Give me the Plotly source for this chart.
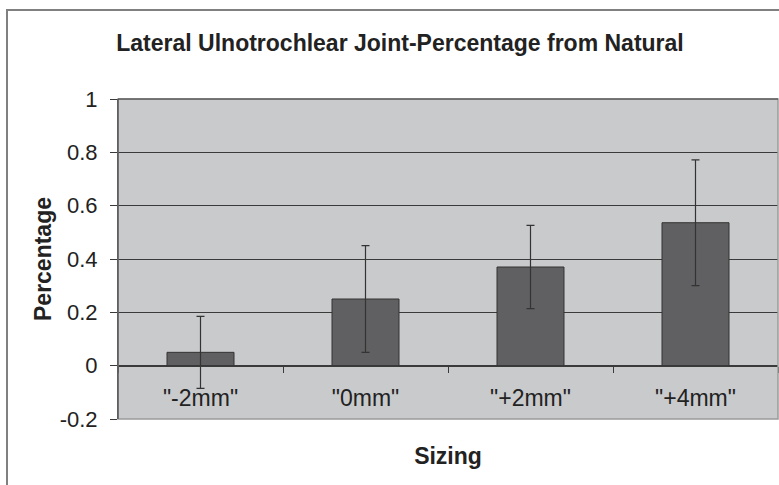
import plotly.graph_objects as go

categories = ['"-2mm"', '"0mm"', '"+2mm"', '"+4mm"']
values = [0.05, 0.25, 0.37, 0.536]
errors = [0.135, 0.2, 0.156, 0.236]
y_ticks = [-0.2, 0, 0.2, 0.4, 0.6, 0.8, 1]
y_tick_labels = ["-0.2", "0", "0.2", "0.4", "0.6", "0.8", "1"]

FONT = "Liberation Sans, Arial, Helvetica, sans-serif"
DARK = "#3a3a3a"
TXT = "#222222"

L, T = 118, 99
W, H = 779, 485
PW, PH = 660, 320

fig = go.Figure()
fig.add_trace(go.Bar(
    x=categories,
    y=values,
    marker=dict(color="#606062", line=dict(color="#333333", width=1)),
    error_y=dict(type="data", array=errors, visible=True,
                 color="#333333", thickness=1.2, width=4),
    showlegend=False,
))

y_min, y_max = -0.2, 1.0
zero_pos = (0 - y_min) / (y_max - y_min)

fig.update_layout(
    width=W, height=H,
    margin=dict(l=L, r=W - L - PW, t=T, b=H - T - PH),
    paper_bgcolor="white",
    plot_bgcolor="#c9cacc",
    bargap=0.594,
    font=dict(family=FONT, color=TXT),
    title=dict(text="<b>Lateral Ulnotrochlear Joint-Percentage from Natural</b>",
               x=400/W, xanchor="center", xref="container",
               y=1-43/H, yanchor="middle", yref="container",
               font=dict(size=23, family=FONT, color=TXT)),
    xaxis=dict(
        anchor="free", position=zero_pos,
        showline=True, linecolor=DARK, linewidth=1,
        ticks="outside", ticklen=6, tickcolor=DARK, tickson="boundaries",
        tickfont=dict(size=23, family=FONT, color=TXT),
        ticklabelstandoff=12,
        showgrid=False,
        title=dict(text="<b>Sizing</b>", font=dict(size=23, family=FONT, color=TXT),
                   standoff=37),
    ),
    yaxis=dict(
        range=[y_min, y_max],
        tickvals=y_ticks, ticktext=y_tick_labels,
        showline=True, linecolor=DARK, linewidth=1,
        ticks="outside", ticklen=7, tickcolor=DARK,
        tickfont=dict(size=22, family=FONT, color=TXT),
        ticklabelstandoff=8,
        showgrid=True, gridcolor=DARK, gridwidth=1,
        zeroline=False,
        title=dict(text="<b>Percentage</b>", font=dict(size=23, family=FONT, color=TXT),
                   standoff=1),
    ),
    shapes=[
        dict(type="rect", xref="x domain", yref="y domain", x0=0, x1=1, y0=0, y1=1,
             line=dict(color="#9a9a9a", width=1.5), fillcolor="rgba(0,0,0,0)", layer="above"),
        dict(type="line", xref="x domain", yref="y domain", x0=0, x1=1, y0=1, y1=1,
             line=dict(color=DARK, width=1), layer="above"),
        dict(type="line", xref="x domain", yref="y domain", x0=0, x1=0, y0=0, y1=1,
             line=dict(color=DARK, width=1), layer="above"),
        dict(type="rect", xref="paper", yref="paper",
             x0=(7 - L)/PW, x1=1.2, y0=-0.5, y1=1 + (T - 10)/PH,
             line=dict(color="#808080", width=2), fillcolor="rgba(0,0,0,0)", layer="below"),
    ],
)

fig.write_html(
    "out.html",
    config={"displayModeBar": False},
    post_script=("document.documentElement.style.margin='0';"
                 "document.body.style.margin='0';"
                 "document.documentElement.style.overflow='hidden';"
                 "document.body.style.overflow='hidden';"),
)
